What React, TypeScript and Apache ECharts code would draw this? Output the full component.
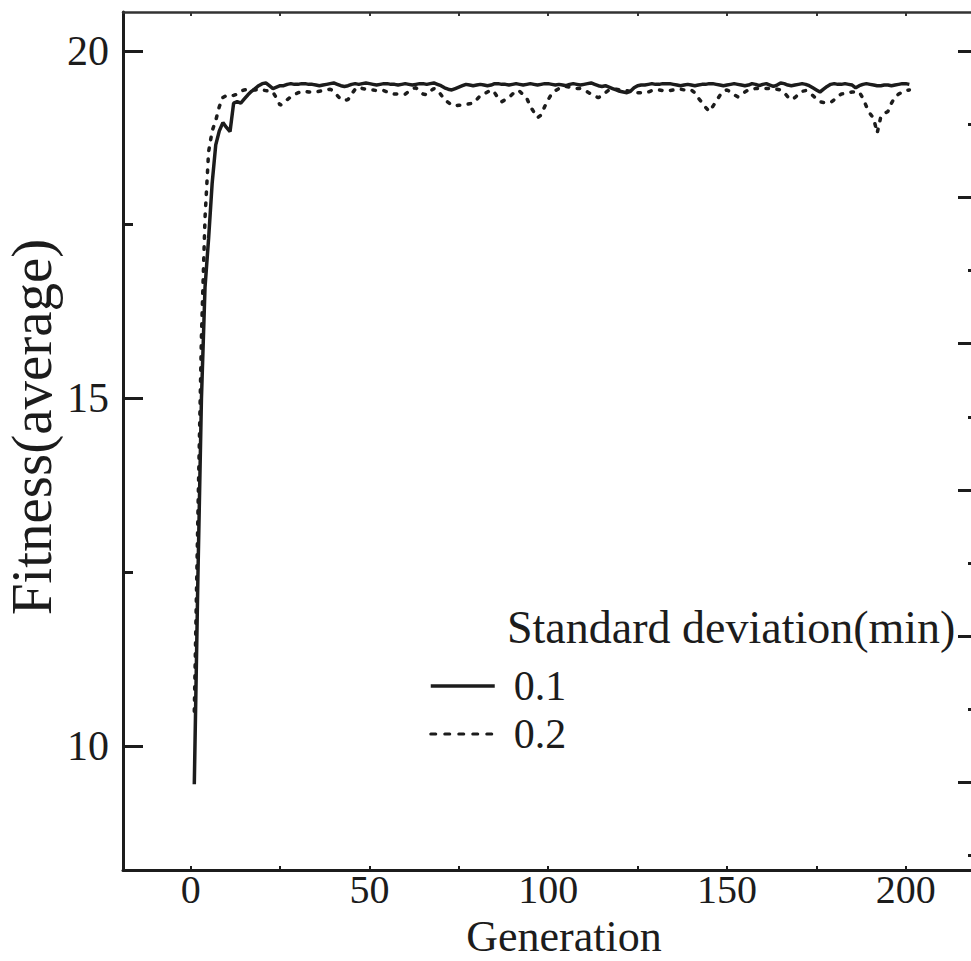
import React, { useEffect, useRef } from "react";
import * as echarts from "echarts";

// Average fitness per generation, standard deviation(min) = 0.1 (solid), generations 1..201
const fitnessSd01 = [
  9.45, 12.4, 15.0, 16.6, 17.3, 18.1, 18.65, 18.85, 18.97, 18.9, 18.84, 19.25, 19.27, 19.25, 19.31, 19.37, 19.42, 19.46, 19.5, 19.53, 19.54, 19.5, 19.46, 19.48, 19.5,
  19.50, 19.52, 19.53, 19.52, 19.52, 19.53, 19.53, 19.52, 19.52, 19.51, 19.50, 19.51, 19.52, 19.53, 19.54, 19.52, 19.50, 19.49, 19.50, 19.52, 19.53, 19.52, 19.53, 19.54, 19.53,
  19.52, 19.51, 19.52, 19.53, 19.53, 19.52, 19.52, 19.51, 19.52, 19.53, 19.52, 19.51, 19.52, 19.53, 19.53, 19.52, 19.53, 19.54, 19.52, 19.50, 19.47, 19.45, 19.44, 19.46, 19.48,
  19.50, 19.52, 19.51, 19.50, 19.51, 19.52, 19.51, 19.50, 19.51, 19.53, 19.53, 19.52, 19.52, 19.51, 19.52, 19.53, 19.52, 19.51, 19.52, 19.53, 19.52, 19.51, 19.52, 19.53, 19.53,
  19.52, 19.51, 19.52, 19.51, 19.50, 19.52, 19.53, 19.52, 19.51, 19.52, 19.53, 19.54, 19.52, 19.50, 19.49, 19.50, 19.48, 19.46, 19.44, 19.42, 19.41, 19.40, 19.42, 19.47, 19.50,
  19.51, 19.51, 19.52, 19.53, 19.52, 19.52, 19.53, 19.53, 19.53, 19.52, 19.51, 19.50, 19.51, 19.52, 19.51, 19.50, 19.51, 19.52, 19.52, 19.53, 19.53, 19.52, 19.51, 19.50, 19.51,
  19.52, 19.53, 19.52, 19.51, 19.50, 19.51, 19.53, 19.52, 19.50, 19.52, 19.53, 19.51, 19.49, 19.51, 19.54, 19.53, 19.51, 19.50, 19.51, 19.52, 19.53, 19.52, 19.50, 19.47, 19.44,
  19.41, 19.45, 19.49, 19.52, 19.53, 19.52, 19.52, 19.53, 19.52, 19.51, 19.47, 19.50, 19.52, 19.53, 19.52, 19.51, 19.50, 19.50, 19.51, 19.51, 19.50, 19.51, 19.52, 19.53, 19.53, 19.52,
];

// Average fitness per generation, standard deviation(min) = 0.2 (dotted), generations 1..201
const fitnessSd02 = [
  10.5, 13.3, 15.9, 17.6, 18.55, 18.85, 19.0, 19.2, 19.33, 19.36, 19.37, 19.36, 19.38, 19.42, 19.44, 19.45, 19.44, 19.44, 19.45, 19.44, 19.43, 19.42, 19.41, 19.32, 19.22,
  19.25, 19.3, 19.34, 19.37, 19.4, 19.41, 19.42, 19.41, 19.41, 19.41, 19.42, 19.43, 19.44, 19.45, 19.42, 19.36, 19.3, 19.29, 19.3, 19.38, 19.45, 19.48, 19.46, 19.45, 19.44,
  19.44, 19.43, 19.43, 19.43, 19.41, 19.39, 19.38, 19.38, 19.38, 19.38, 19.42, 19.46, 19.47, 19.42, 19.38, 19.37, 19.42, 19.46, 19.44, 19.37, 19.3, 19.26, 19.22, 19.21, 19.22,
  19.22, 19.23, 19.24, 19.25, 19.3, 19.36, 19.38, 19.41, 19.44, 19.4, 19.32, 19.27, 19.3, 19.33, 19.38, 19.43, 19.42, 19.37, 19.32, 19.2, 19.12, 19.04, 19.08, 19.2, 19.3,
  19.39, 19.43, 19.46, 19.48, 19.49, 19.48, 19.47, 19.46, 19.46, 19.44, 19.41, 19.38, 19.35, 19.33, 19.35, 19.4, 19.44, 19.45, 19.45, 19.44, 19.44, 19.43, 19.42, 19.41, 19.4,
  19.4, 19.4, 19.41, 19.43, 19.44, 19.44, 19.43, 19.43, 19.43, 19.44, 19.45, 19.45, 19.44, 19.44, 19.44, 19.4, 19.32, 19.26, 19.19, 19.13, 19.2, 19.28, 19.36, 19.42, 19.44,
  19.41, 19.37, 19.34, 19.37, 19.41, 19.44, 19.45, 19.46, 19.46, 19.46, 19.46, 19.46, 19.46, 19.45, 19.44, 19.4, 19.34, 19.3, 19.33, 19.38, 19.42, 19.43, 19.4, 19.36, 19.31,
  19.27, 19.26, 19.26, 19.26, 19.3, 19.35, 19.38, 19.39, 19.4, 19.41, 19.41, 19.41, 19.32, 19.2, 19.1, 19.03, 18.82, 19.05, 19.1, 19.13, 19.25, 19.34, 19.38, 19.41, 19.43, 19.44,
];

const firstGeneration = 1;
const seriesNames = ["0.1", "0.2"];
const legendHeading = "Standard deviation(min)";
const xTickValues = [0, 25, 50, 75, 100, 125, 150, 175, 200];
const xLabelValues = [0, 50, 100, 150, 200];
const yMajorValues = [10, 15, 20];
const yMinorValues = [12.5, 17.5];
const rightMajorValues = [1, 3, 5, 7, 9, 11];
const rightMinorValues = [0, 2, 4, 6, 8, 10];

const FONT = "Liberation Serif";
const INK = "#1c1c1c";
const DOTS = [2.5, 8.5];

export default function App() {
  const ref = useRef<HTMLDivElement>(null);

  useEffect(() => {
    if (!ref.current) return;
    const chart = echarts.init(ref.current, null, { renderer: "svg" });

    const toPairs = (arr: number[]) => arr.map((v, i) => [firstGeneration + i, v]);

    const xMin = -18.94;
    const xMax = 220.2;
    const yMin = 8.216;
    const yMax = 20.561;
    const rMin = -0.2;
    const rMax = 11.537;

    const hiddenLabel = { show: false };
    const noZeroLine = (show: boolean, color: string, width: number) => ({
      show,
      onZero: false,
      lineStyle: { color, width },
    });

    chart.setOption({
      animation: false,
      backgroundColor: "#ffffff",
      grid: { left: 123, top: 12, right: 22, bottom: 91, containLabel: false, outerBoundsMode: "none" },
      xAxis: [
        {
          type: "value",
          position: "bottom",
          min: xMin,
          max: xMax,
          name: "Generation",
          nameLocation: "middle",
          nameGap: 44,
          nameMoveOverlap: false,
          nameTextStyle: { fontFamily: FONT, fontSize: 44, lineHeight: 44, color: INK, padding: [0, 0, 0, 27] },
          axisLine: noZeroLine(true, INK, 3),
          axisTick: { show: true, inside: true, length: 4, customValues: xTickValues, lineStyle: { color: INK, width: 2 } },
          axisLabel: { show: true, customValues: xLabelValues, margin: 0, fontFamily: FONT, fontSize: 40, lineHeight: 38, color: INK },
          splitLine: { show: false },
        },
        {
          type: "value",
          position: "top",
          min: xMin,
          max: xMax,
          axisLine: noZeroLine(true, "#333", 2.5),
          axisTick: { show: true, inside: true, length: 4, customValues: xTickValues, lineStyle: { color: "#333", width: 2 } },
          axisLabel: hiddenLabel,
          splitLine: { show: false },
        },
      ],
      yAxis: [
        {
          type: "value",
          position: "left",
          min: yMin,
          max: yMax,
          name: "Fitness(average)",
          nameLocation: "middle",
          nameGap: 64,
          nameMoveOverlap: false,
          nameTextStyle: { fontFamily: FONT, fontSize: 57, lineHeight: 56, color: INK, padding: [0, 0, 0, 28] },
          axisLine: noZeroLine(true, INK, 3),
          axisTick: { show: true, inside: true, length: 20, customValues: yMajorValues, lineStyle: { color: INK, width: 3 } },
          axisLabel: { show: true, customValues: yMajorValues, margin: 14, fontFamily: FONT, fontSize: 42, color: INK },
          splitLine: { show: false },
        },
        {
          type: "value",
          position: "left",
          min: yMin,
          max: yMax,
          axisLine: noZeroLine(false, INK, 3),
          axisTick: { show: true, inside: true, length: 10, customValues: yMinorValues, lineStyle: { color: INK, width: 3 } },
          axisLabel: hiddenLabel,
          splitLine: { show: false },
        },
        {
          type: "value",
          position: "right",
          min: rMin,
          max: rMax,
          axisLine: noZeroLine(true, INK, 3),
          axisTick: { show: true, inside: true, length: 20, customValues: rightMajorValues, lineStyle: { color: INK, width: 3 } },
          axisLabel: hiddenLabel,
          splitLine: { show: false },
        },
        {
          type: "value",
          position: "right",
          min: rMin,
          max: rMax,
          axisLine: noZeroLine(false, INK, 3),
          axisTick: { show: true, inside: true, length: 10, customValues: rightMinorValues, lineStyle: { color: INK, width: 3 } },
          axisLabel: hiddenLabel,
          splitLine: { show: false },
        },
      ],
      legend: {
        orient: "vertical",
        left: 424,
        top: 660,
        itemWidth: 64,
        itemHeight: 20,
        itemGap: 6,
        itemStyle: { opacity: 0 },
        textStyle: { fontFamily: FONT, fontSize: 42, color: INK, padding: [0, 0, 0, 14] },
        data: [
          { name: seriesNames[0], lineStyle: { color: INK, width: 3.5, type: "solid" }, itemStyle: { opacity: 0 } },
          { name: seriesNames[1], lineStyle: { color: INK, width: 3, type: [5, 9], cap: "round" }, itemStyle: { opacity: 0 } },
        ],
      },
      graphic: [
        {
          type: "text",
          left: 507,
          top: 604,
          style: { text: legendHeading, fontFamily: FONT, fontSize: 46, fill: INK },
        },
      ],
      series: [
        {
          name: seriesNames[0],
          type: "line",
          xAxisIndex: 0,
          yAxisIndex: 0,
          data: toPairs(fitnessSd01),
          symbol: "none",
          showSymbol: false,
          lineStyle: { color: INK, width: 3.5, type: "solid" },
          itemStyle: { color: INK },
          z: 3,
        },
        {
          name: seriesNames[1],
          type: "line",
          xAxisIndex: 0,
          yAxisIndex: 0,
          data: toPairs(fitnessSd02),
          symbol: "none",
          showSymbol: false,
          lineStyle: { color: INK, width: 3.5, type: DOTS, cap: "round" },
          itemStyle: { color: INK },
          z: 2,
        },
      ],
    });

    return () => chart.dispose();
  }, []);

  return (
    <div
      style={{
        position: "fixed",
        left: 0,
        top: 0,
        width: 971,
        height: 961,
        overflow: "hidden",
        background: "#ffffff",
      }}
    >
      <div ref={ref} style={{ width: 1000, height: 961 }} />
    </div>
  );
}
